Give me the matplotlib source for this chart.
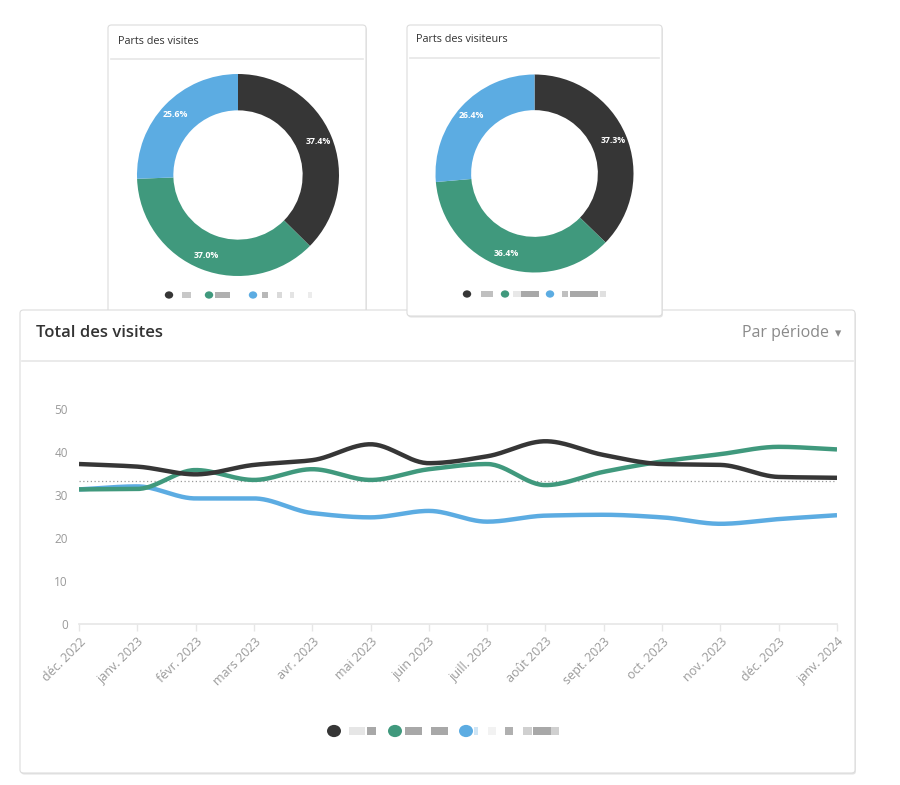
import matplotlib.pyplot as plt
import numpy as np
from matplotlib.patches import Circle
from matplotlib.patches import FancyBboxPatch
from matplotlib.patches import Rectangle

plt.rcParams["font.family"] = ["Open Sans", "DejaVu Sans"]

W, H = 900, 785

months = [
    "déc. 2022", "janv. 2023", "févr. 2023", "mars 2023", "avr. 2023", "mai 2023", "juin 2023",
    "juill. 2023", "août 2023", "sept. 2023", "oct. 2023", "nov. 2023", "déc. 2023", "janv. 2024",
]
series_dark = [37.2, 36.6, 34.8, 37.0, 38.1, 41.8, 37.4, 39.0, 42.5, 39.3, 37.2, 37.0, 34.2, 34.0]
series_green = [31.3, 31.4, 35.8, 33.5, 36.0, 33.5, 36.0, 37.2, 32.3, 35.4, 37.8, 39.5, 41.2, 40.6]
series_blue = [31.3, 32.0, 29.2, 29.2, 25.8, 24.8, 26.3, 23.8, 25.2, 25.4, 24.8, 23.3, 24.4, 25.3]
average_line = 33.3

visits_share = [37.4, 37.0, 25.6]
visitors_share = [37.3, 36.4, 26.4]

DARK = "#363636"
GREEN = "#40997d"
BLUE = "#5cace2"
colors = [DARK, GREEN, BLUE]


def fx(x):
    return x / W


def fy(y):
    return 1 - y / H


def monotone(x, y, n=30):
    # Fritsch-Carlson monotone cubic, only used to draw the smooth curve
    x = np.asarray(x, float)
    y = np.asarray(y, float)
    h = np.diff(x)
    d = np.diff(y) / h
    m = np.zeros_like(y)
    m[0], m[-1] = d[0], d[-1]
    for i in range(1, len(y) - 1):
        if d[i - 1] * d[i] <= 0:
            m[i] = 0
        else:
            m[i] = 2 / (1 / d[i - 1] + 1 / d[i])
    xs, ys = [], []
    for i in range(len(h)):
        t = np.linspace(0, 1, n, endpoint=False)
        h00 = 2 * t**3 - 3 * t**2 + 1
        h10 = t**3 - 2 * t**2 + t
        h01 = -2 * t**3 + 3 * t**2
        h11 = t**3 - t**2
        xs.append(x[i] + t * h[i])
        ys.append(h00 * y[i] + h10 * h[i] * m[i] + h01 * y[i + 1] + h11 * h[i] * m[i + 1])
    xs.append([x[-1]])
    ys.append([y[-1]])
    return np.concatenate(xs), np.concatenate(ys)


def card(fig, x0, y0, x1, y1, z):
    shadow = FancyBboxPatch(
        (fx(x0) + 0.001, fy(y1) - 0.002), fx(x1 - x0), (y1 - y0) / H,
        boxstyle="round,pad=0,rounding_size=0.004", transform=fig.transFigure,
        facecolor="#e4e4e4", edgecolor="none", zorder=z - 0.1,
    )
    box = FancyBboxPatch(
        (fx(x0), fy(y1)), fx(x1 - x0), (y1 - y0) / H,
        boxstyle="round,pad=0,rounding_size=0.004", transform=fig.transFigure,
        facecolor="white", edgecolor="#dcdcdc", linewidth=0.8, zorder=z,
    )
    fig.patches.extend([shadow, box])


def hline(fig, x0, x1, y, z, color="#e6e6e6", lw=1.2):
    fig.add_artist(plt.Line2D([fx(x0), fx(x1)], [fy(y), fy(y)], color=color, lw=lw, zorder=z))


def legend_blocks(fig, items, y, r, z):
    # legend labels in the source are pixelated, so they are drawn as grey blocks
    for cx, col, blocks in items:
        fig.patches.append(Circle((fx(cx), fy(y)), r / W, transform=fig.transFigure,
                                  facecolor=col, edgecolor="none", zorder=z))
        for bx, bw, shade in blocks:
            fig.patches.append(Rectangle((fx(bx), fy(y + r * 0.6)), bw / W, r * 1.2 / H,
                                         transform=fig.transFigure, facecolor=shade,
                                         edgecolor="none", zorder=z))


def donut(fig, cx, cy, r, values, z):
    ax = fig.add_axes([fx(cx - r), fy(cy + r), 2 * r / W, 2 * r / H])
    ax.set_zorder(z)
    ax.pie(values, colors=colors, startangle=90, counterclock=False, radius=1,
           wedgeprops=dict(width=0.36, edgecolor="none"),
           autopct="%.1f%%", pctdistance=0.86,
           textprops=dict(color="white", fontsize=6.3, fontweight="bold"))
    ax.set_xlim(-1, 1)
    ax.set_ylim(-1, 1)
    ax.set_aspect("auto")
    ax.axis("off")


fig = plt.figure(figsize=(W / 100, H / 100), dpi=100)
fig.patch.set_facecolor("white")

# card 1 (behind the big card), big card, card 2 (on top)
card(fig, 108, 25, 366, 330, -30)
hline(fig, 111, 363, 59, -29)
fig.text(fx(118), fy(41), "Parts des visites", fontsize=7.8, color="#333333", va="center", zorder=-29)
legend_blocks(fig, [
    (169, DARK, [(182, 9, "#c8c8c8")]),
    (209, GREEN, [(215, 15, "#b0b0b0")]),
    (253, BLUE, [(262, 6, "#b8b8b8"), (277, 5, "#dadada"), (290, 4, "#e4e4e4"), (308, 4, "#ececec")]),
], 295, 4.2, -29)

card(fig, 20, 310, 855, 773, -20)
hline(fig, 22, 853, 361, -19)
fig.text(fx(36), fy(333), "Total des visites", fontsize=12, fontweight="semibold", color="#333333",
         va="center", zorder=-19)
fig.text(fx(829), fy(333), "Par période", fontsize=11.5, color="#8a8a8a", va="center", ha="right", zorder=-19)
fig.text(fx(838), fy(334), "▾", fontsize=9, color="#8a8a8a", va="center", ha="center", zorder=-19)
legend_blocks(fig, [
    (334, DARK, [(349, 16, "#e6e6e6"), (367, 9, "#a8a8a8")]),
    (395, GREEN, [(405, 17, "#a8a8a8"), (431, 17, "#a8a8a8")]),
    (466, BLUE, [(474, 4, "#cfe5f5"), (488, 8, "#f2f2f2"), (505, 8, "#b0b0b0"), (523, 9, "#d0d0d0"),
                 (533, 18, "#a8a8a8"), (551, 8, "#d0d0d0")]),
], 731, 7, -19)

card(fig, 407, 25, 662, 316, -10)
hline(fig, 410, 659, 58, -9)
fig.text(fx(416), fy(40), "Parts des visiteurs", fontsize=7.8, color="#333333", va="center", zorder=-9)
legend_blocks(fig, [
    (467, DARK, [(481, 12, "#c0c0c0")]),
    (505, GREEN, [(513, 8, "#e8e8e8"), (521, 18, "#a8a8a8")]),
    (550, BLUE, [(562, 6, "#c0c0c0"), (570, 28, "#a8a8a8"), (600, 6, "#e0e0e0")]),
], 294, 4.2, -9)

donut(fig, 238, 175, 101, visits_share, -25)
donut(fig, 534.5, 173.5, 99, visitors_share, -5)

# line chart
ax = fig.add_axes([fx(79), fy(624), (837 - 79) / W, (624 - 409) / H])
ax.set_zorder(-15)
ax.patch.set_visible(False)
x = np.arange(len(months))
ax.axhline(average_line, color="#9a9a9a", lw=0.9, ls=(0, (1, 2)), zorder=1)
for vals, col in [(series_blue, BLUE), (series_green, GREEN), (series_dark, DARK)]:
    sx, sy = monotone(x, vals)
    ax.plot(sx, sy, color=col, lw=3.2, solid_capstyle="butt", zorder=2)

ax.set_xlim(0, len(months) - 1)
ax.set_ylim(0, 50)
ax.set_yticks([0, 10, 20, 30, 40, 50])
ax.set_xticks(x)
ax.set_xticklabels(months, rotation=45, ha="right", rotation_mode="anchor")
ax.tick_params(axis="y", length=0, pad=8, labelsize=8.5, labelcolor="#9a9a9a")
ax.tick_params(axis="x", length=5, width=1, color="#e6e6e6", pad=3, labelsize=9, labelcolor="#9a9a9a")
for side in ["top", "right", "left"]:
    ax.spines[side].set_visible(False)
ax.spines["bottom"].set_color("#e6e6e6")
ax.spines["bottom"].set_linewidth(1.2)

fig.savefig("out.png", dpi=100, facecolor="white")
